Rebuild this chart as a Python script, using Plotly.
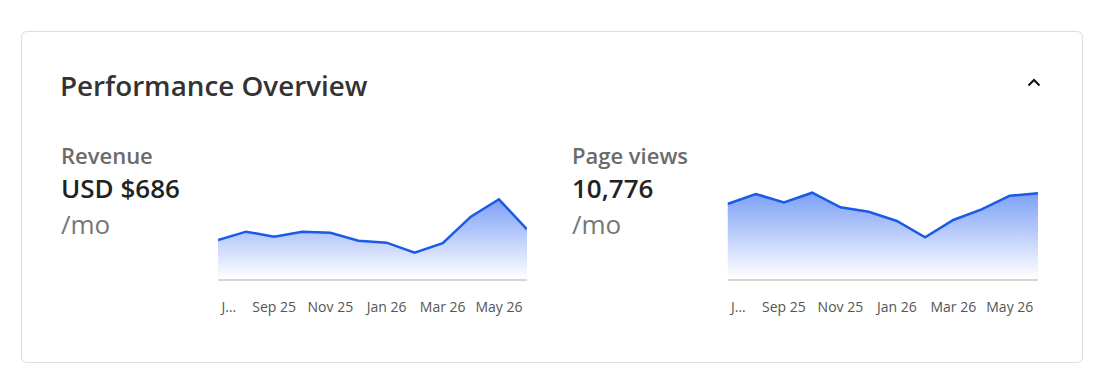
import plotly.graph_objects as go

W, H = 1109, 391

months = ["Jul 25", "Aug 25", "Sep 25", "Oct 25", "Nov 25", "Dec 25",
          "Jan 26", "Feb 26", "Mar 26", "Apr 26", "May 26", "Jun 26"]
revenue = [538, 653, 584, 653, 639, 529, 501, 363, 493, 860, 1100, 686]
page_views = [9430, 10690, 9640, 10850, 9010, 8460, 7290, 5240, 7420, 8760, 10470, 10776]
tick_vals = ["Jul 25", "Sep 25", "Nov 25", "Jan 26", "Mar 26", "May 26"]
tick_text = ["\u00a0\u00a0\u00a0\u00a0\u00a0\u00a0J\u2026", "Sep 25", "Nov 25", "Jan 26", "Mar 26", "May 26"]

title_text = "Performance Overview"
rev_label, rev_value, rev_unit = "Revenue", "USD $686", "/mo"
pv_label, pv_value, pv_unit = "Page views", "10,776", "/mo"


def fx(p):
    return p / W


def fy(p):
    return 1 - p / H


LINE = "#1a5ae8"
FILL_TOP = "#7da0f6"

fig = go.Figure()

for i, vals in enumerate([revenue, page_views]):
    ax = "" if i == 0 else "2"
    fig.add_trace(go.Scatter(
        x=months, y=vals, mode="lines",
        line=dict(color=LINE, width=2.5),
        fill="tozeroy",
        fillgradient=dict(type="vertical",
                          colorscale=[[0, "rgba(255,255,255,1)"], [1, FILL_TOP]],
                          start=0, stop=max(vals)),
        xaxis="x" + ax, yaxis="y" + ax,
        hoverinfo="skip", showlegend=False,
    ))

common_x = dict(type="category", range=[0, 11], showgrid=False, zeroline=False,
                showline=True, linecolor="#d6d6d6", linewidth=1.5, ticks="",
                tickvals=tick_vals, ticktext=tick_text, ticklabelstandoff=14,
                tickfont=dict(family="Open Sans", size=14, color="#555555"),
                automargin=False, fixedrange=True)
common_y = dict(visible=False, showgrid=False, zeroline=False, fixedrange=True,
                automargin=False)

fig.update_layout(
    width=W, height=H,
    margin=dict(l=0, r=0, t=0, b=0, pad=0, autoexpand=False),
    paper_bgcolor="white", plot_bgcolor="rgba(0,0,0,0)",
    xaxis=dict(domain=[fx(218), fx(527)], anchor="y", **common_x),
    yaxis=dict(domain=[fy(279), fy(195)], anchor="x", range=[0, 1159], **common_y),
    xaxis2=dict(domain=[fx(727.5), fx(1038)], anchor="y2", **common_x),
    yaxis2=dict(domain=[fy(279), fy(190)], anchor="x2", range=[0, 11190], **common_y),
)

# card border with rounded corners
x0, y0, x1, y1, r = fx(21.5), fy(31.5), fx(1082.5), fy(362.5), 6
rx, ry = r / W, r / H
path = (f"M {x0+rx},{y0} L {x1-rx},{y0} Q {x1},{y0} {x1},{y0-ry} "
        f"L {x1},{y1+ry} Q {x1},{y1} {x1-rx},{y1} "
        f"L {x0+rx},{y1} Q {x0},{y1} {x0},{y1+ry} "
        f"L {x0},{y0-ry} Q {x0},{y0} {x0+rx},{y0} Z")
fig.add_shape(type="path", path=path, xref="paper", yref="paper",
              line=dict(color="#dedede", width=1), fillcolor="rgba(0,0,0,0)", layer="below")

# chevron
fig.add_shape(type="path", xref="paper", yref="paper",
              path=f"M {fx(1028.5)},{fy(85.5)} L {fx(1034)},{fy(80)} L {fx(1039.5)},{fy(85.5)}",
              line=dict(color="#111111", width=2))


def text(x, y, s, size, color, weight=400, family="Open Sans"):
    fig.add_annotation(x=fx(x), y=fy(y), xref="paper", yref="paper", text=s,
                       showarrow=False, xanchor="left", yanchor="middle",
                       font=dict(family=family, size=size, color=color, weight=weight))


text(58, 85, title_text, 27.8, "#333333", 600)
text(58.5, 155, rev_label, 22, "#6b6b6b", 600)
text(58.5, 188, rev_value, 26, "#222222", 600)
text(58.5, 224, rev_unit, 26, "#777777", 400)
text(569.5, 155, pv_label, 22, "#6b6b6b", 600)
text(569.5, 188, pv_value, 26, "#222222", 600)
text(569.5, 224, pv_unit, 26, "#777777", 400)

fig.write_html("out.html")
